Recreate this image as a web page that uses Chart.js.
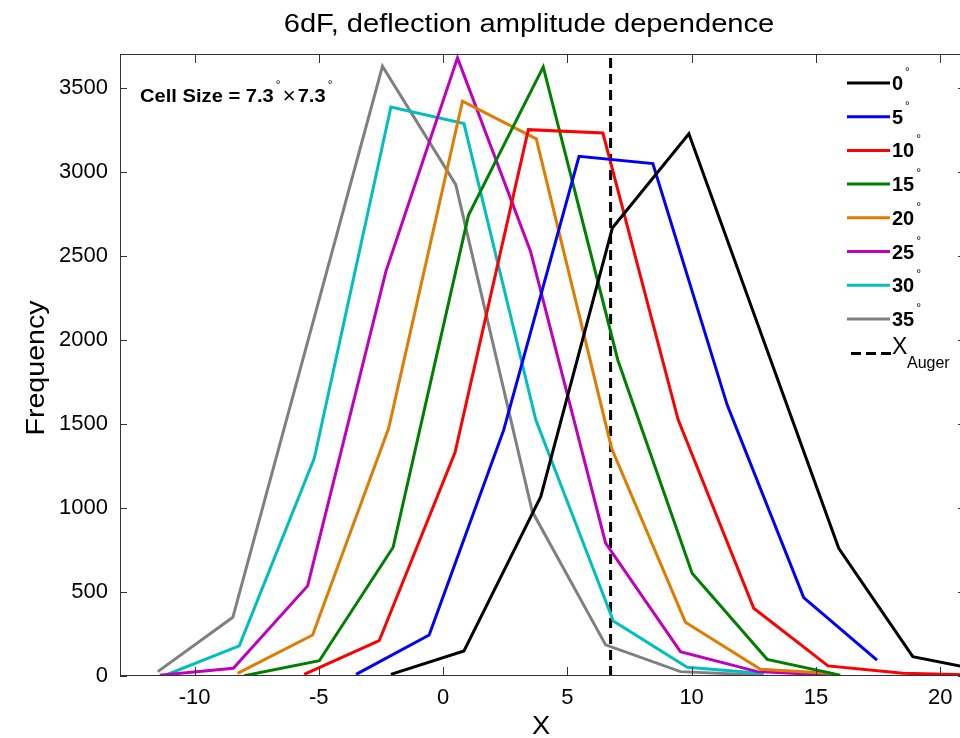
<!DOCTYPE html>
<html><head><meta charset="utf-8">
<script src="https://cdn.jsdelivr.net/npm/chart.js@4.4.0/dist/chart.umd.min.js"></script>
<style>
html,body{margin:0;padding:0;background:#fff;overflow:hidden;width:960px;height:738px}
#wrap{width:966px;height:738px}
</style></head>
<body><div id="wrap"><canvas id="c" width="966" height="738"></canvas></div>
<script>
// ---------- data ----------
const titleText = '6dF, deflection amplitude dependence';
const xLabel = 'X';
const yLabel = 'Frequency';
const seriesLabels = ['0', '5', '10', '15', '20', '25', '30', '35'];
const seriesColors = ['#000000', '#0000ff', '#ff0000', '#008000', '#de7d00', '#bf00bf', '#00bfbf', '#808080'];

const x0 = [-2.1, 0.84, 3.93, 6.81, 9.89, 12.9, 15.92, 18.9, 21.9];
const y0 = [10, 149, 1067, 2665, 3226, 1994, 760, 115, 28];
const x5 = [-3.5, -0.56, 2.44, 5.47, 8.44, 11.43, 14.51, 17.46];
const y5 = [10, 244, 1464, 3091, 3048, 1613, 466, 95];
const x10 = [-5.59, -2.57, 0.48, 3.43, 6.43, 9.46, 12.5, 15.49, 18.5, 21.5];
const y10 = [10, 210, 1329, 3250, 3230, 1524, 403, 60, 16, 5];
const x15 = [-8.0, -4.98, -2.01, 1.02, 4.03, 7.03, 10.02, 13.04, 15.98];
const y15 = [2, 91, 766, 2740, 3623, 1880, 611, 99, 5];
const x20 = [-8.27, -5.25, -2.19, 0.78, 3.75, 6.78, 9.75, 12.77, 15.7];
const y20 = [16, 244, 1474, 3419, 3195, 1355, 320, 40, 15];
const x25 = [-11.4, -8.44, -5.45, -2.3, 0.58, 3.52, 6.54, 9.55, 12.64, 15.6];
const y25 = [5, 46, 536, 2407, 3677, 2526, 790, 145, 26, 5];
const x30 = [-11.15, -8.2, -5.18, -2.1, 0.84, 3.73, 6.85, 9.82, 12.9];
const y30 = [6, 179, 1296, 3385, 3286, 1524, 327, 52, 15];
const x35 = [-11.48, -8.46, -5.45, -2.44, 0.51, 3.59, 6.54, 9.55, 12.9];
const y35 = [26, 349, 1988, 3627, 2923, 978, 185, 26, 5];

const xAuger = 6.74;
const xTicks = [-10, -5, 0, 5, 10, 15, 20];
const yTicks = [0, 500, 1000, 1500, 2000, 2500, 3000, 3500];
const xRange = [-13, 21];
const yRange = [0, 3700];

const seriesX = [x0, x5, x10, x15, x20, x25, x30, x35];
const seriesY = [y0, y5, y10, y15, y20, y25, y30, y35];

// ---------- build ----------
const FONT = '"Liberation Sans", Arial, Helvetica, sans-serif';
const datasets = seriesLabels.map((lab, i) => ({
  label: lab,
  data: seriesX[i].map((x, j) => ({x: x, y: seriesY[i][j]})),
  borderColor: seriesColors[i],
  backgroundColor: seriesColors[i],
  borderWidth: 3,
  pointRadius: 0,
  tension: 0,
  fill: false
}));
datasets.push({
  label: 'Auger',
  data: [{x: xAuger, y: yRange[0]}, {x: xAuger, y: yRange[1]}],
  borderColor: '#000',
  borderWidth: 3,
  borderDash: [10, 6],
  pointRadius: 0,
  fill: false,
  isAuger: true
});

function txt(ctx, s, x, y, font, align, base, sx) {
  ctx.save();
  ctx.font = font;
  ctx.textAlign = align || 'left';
  ctx.textBaseline = base || 'alphabetic';
  ctx.translate(x, y);
  ctx.scale(sx || 1, 1);
  ctx.fillText(s, 0, 0);
  const w = ctx.measureText(s).width * (sx || 1);
  ctx.restore();
  return w;
}

const decor = {
  id: 'decor',
  afterDraw(chart) {
    const ctx = chart.ctx;
    const a = chart.chartArea;
    const xs = chart.scales.x, ys = chart.scales.y;
    ctx.save();
    ctx.fillStyle = '#000';
    // frame
    ctx.strokeStyle = '#333';
    ctx.lineWidth = 1;
    ctx.strokeRect(a.left + 0.5, a.top + 0.5, a.right - a.left - 1, a.bottom - a.top - 1);
    // inner ticks
    ctx.beginPath();
    xTicks.forEach(v => {
      const px = Math.round(xs.getPixelForValue(v)) + 0.5;
      ctx.moveTo(px, a.bottom); ctx.lineTo(px, a.bottom - 9);
      ctx.moveTo(px, a.top); ctx.lineTo(px, a.top + 9);
    });
    yTicks.forEach(v => {
      const py = Math.round(ys.getPixelForValue(v)) + 0.5;
      ctx.moveTo(a.left, py); ctx.lineTo(a.left + 7, py);
      ctx.moveTo(a.right, py); ctx.lineTo(a.right - 7, py);
    });
    ctx.stroke();

    // title & axis labels
    txt(ctx, titleText, 529, 32, '26px ' + FONT, 'center', 'alphabetic', 1.12);
    txt(ctx, xLabel, 541, 734, '26px ' + FONT, 'center', 'alphabetic', 1.05);
    ctx.save();
    ctx.translate(44, 368);
    ctx.rotate(-Math.PI / 2);
    txt(ctx, yLabel, 0, 0, '26px ' + FONT, 'center', 'alphabetic', 1.1);
    ctx.restore();

    // annotation
    let x = 140;
    x += txt(ctx, 'Cell Size = 7.3', x, 102, 'bold 19px ' + FONT, 'left', 'alphabetic', 1.06);
    txt(ctx, '°', x + 2, 89, '12px ' + FONT, 'left', 'alphabetic');
    x += 9;
    x += txt(ctx, '×', x, 103, '22px ' + FONT, 'left', 'alphabetic');
    x += 2;
    x += txt(ctx, '7.3', x, 102, 'bold 19px ' + FONT, 'left', 'alphabetic', 1.06);
    txt(ctx, '°', x + 2, 89, '12px ' + FONT, 'left', 'alphabetic');

    // legend
    chart.data.datasets.forEach((ds, i) => {
      const y = 83 + i * 33.7;
      ctx.save();
      ctx.strokeStyle = ds.borderColor;
      ctx.lineWidth = 3;
      if (ds.isAuger) {
        ctx.setLineDash([10, 5]);
        ctx.beginPath(); ctx.moveTo(851, y + 1); ctx.lineTo(891, y + 1); ctx.stroke();
        ctx.restore();
        txt(ctx, 'X', 892, y + 1, '23px ' + FONT, 'left', 'alphabetic');
        txt(ctx, ds.label, 907, y + 15, '16px ' + FONT, 'left', 'alphabetic');
        return;
      }
      ctx.beginPath(); ctx.moveTo(847, y); ctx.lineTo(890, y); ctx.stroke();
      ctx.restore();
      const w = txt(ctx, ds.label, 892, y + 7, 'bold 20px ' + FONT, 'left', 'alphabetic', 1.0);
      txt(ctx, '°', 892 + w + 2, y - 7, '12px ' + FONT, 'left', 'alphabetic');
    });
    ctx.restore();
  }
};

new Chart(document.getElementById('c'), {
  type: 'line',
  data: {datasets: datasets},
  plugins: [decor],
  options: {
    responsive: false,
    animation: false,
    layout: {padding: {left: 0, top: 54, right: 1, bottom: 0}},
    plugins: {legend: {display: false}, title: {display: false}, tooltip: {enabled: false}},
    scales: {
      x: {
        type: 'linear', min: xRange[0], max: xRange[1],
        afterBuildTicks: s => { s.ticks = xTicks.map(v => ({value: v})); },
        afterFit: s => { s.height = 62; },
        grid: {display: false, drawTicks: false},
        border: {display: false},
        ticks: {color: '#000', font: {family: FONT, size: 22}, padding: 9, maxRotation: 0, autoSkip: false,
                callback: v => String(v)}
      },
      y: {
        type: 'linear', min: yRange[0], max: yRange[1],
        afterBuildTicks: s => { s.ticks = yTicks.map(v => ({value: v})); },
        afterFit: s => { s.width = 120; },
        grid: {display: false, drawTicks: false},
        border: {display: false},
        ticks: {color: '#000', font: {family: FONT, size: 22}, padding: 12, autoSkip: false,
                callback: v => String(v)}
      }
    }
  }
});
</script>
</body></html>
